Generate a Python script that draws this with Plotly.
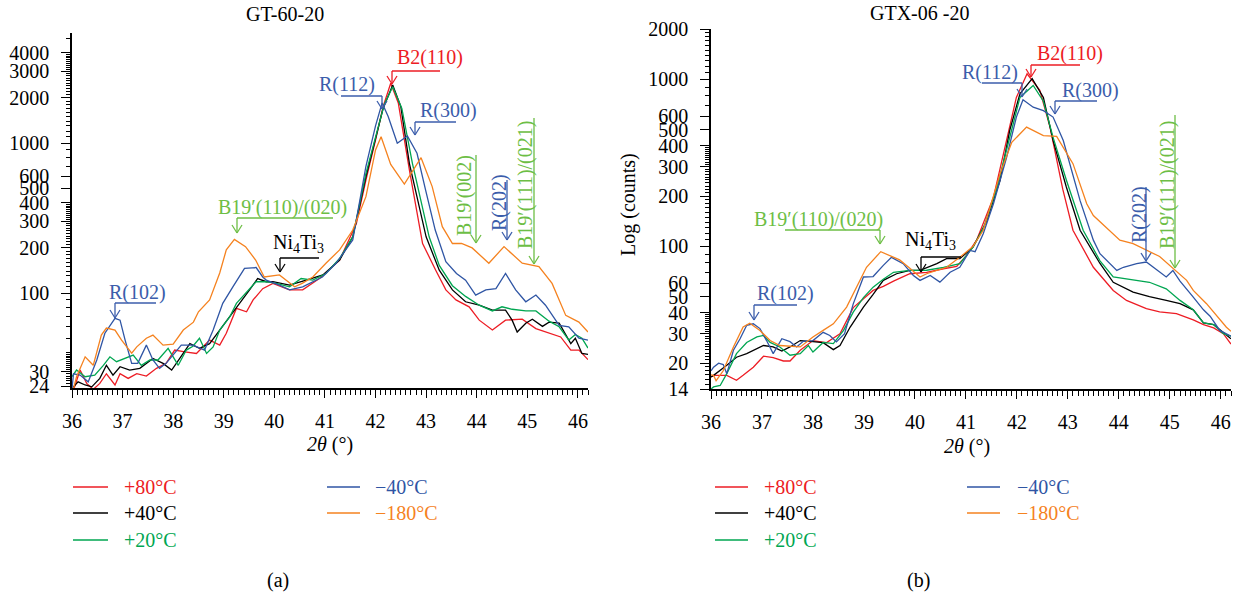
import math
import plotly.graph_objects as go

W, H = 1238, 595
FONT = "Liberation Serif, DejaVu Serif, serif"

# ---------------- data ----------------
labels = ["+80°C", "+40°C", "+20°C", "−40°C", "−180°C"]
colors = ["#ed1c24", "#000000", "#00a651", "#2f55a4", "#f5821f"]

# Panel (a) GT-60-20
a_x_p80 = [36.0, 36.09, 36.16, 36.29, 36.42, 36.55, 36.68, 36.85, 36.95, 37.11, 37.28, 37.47, 37.67, 37.86, 38.03, 38.23, 38.46, 38.72, 38.92, 39.05, 39.25, 39.45, 39.58, 39.77, 39.97, 40.3, 40.56, 40.89, 41.29, 41.62, 41.81, 42.0, 42.15, 42.3, 42.45, 42.67, 42.93, 43.19, 43.39, 43.59, 43.85, 44.05, 44.31, 44.57, 44.9, 45.17, 45.43, 45.66, 45.86, 46.02, 46.2]
a_y_p80 = [21, 26.3, 30.7, 25, 22.8, 25, 29, 24.4, 29, 27, 29, 28, 31.5, 34, 41.7, 40.6, 39.6, 48.6, 45, 54, 79, 75, 90, 107, 116, 105, 105, 125, 166, 290, 566, 1047, 1750, 2500, 1850, 660, 214, 142, 105, 90, 81, 66, 56.7, 66, 67, 58, 54, 51, 41.7, 41.7, 36]

a_x_p40 = [36.0, 36.03, 36.12, 36.26, 36.39, 36.55, 36.68, 36.81, 36.95, 37.14, 37.34, 37.6, 37.8, 37.97, 38.13, 38.33, 38.52, 38.72, 38.92, 39.12, 39.31, 39.51, 39.67, 39.84, 39.97, 40.3, 40.63, 40.96, 41.29, 41.55, 41.81, 42.0, 42.15, 42.34, 42.5, 42.67, 43.0, 43.26, 43.52, 43.78, 44.05, 44.31, 44.57, 44.7, 44.8, 44.97, 45.1, 45.3, 45.43, 45.63, 45.86, 45.95, 46.08, 46.2]
a_y_p40 = [22, 23.7, 25.6, 24.4, 23.7, 27, 33, 28.4, 32.3, 30.7, 31.5, 36.7, 34, 30.7, 36.7, 46, 42.8, 46, 56.7, 69.6, 85.4, 105, 125, 119, 119, 113, 122, 132, 166, 237, 596, 1047, 1700, 2440, 1750, 730, 237, 142, 105, 87.5, 83, 77, 77, 66, 55, 63, 67, 60, 64, 63, 46, 50, 39.6, 39]

a_x_p20 = [36.0, 36.09, 36.26, 36.45, 36.62, 36.75, 36.88, 37.05, 37.21, 37.37, 37.54, 37.7, 37.9, 38.1, 38.26, 38.39, 38.52, 38.66, 38.79, 38.92, 39.12, 39.25, 39.45, 39.64, 39.84, 40.04, 40.3, 40.53, 40.76, 41.02, 41.29, 41.55, 41.81, 42.0, 42.17, 42.34, 42.52, 42.73, 43.06, 43.26, 43.52, 43.78, 44.05, 44.31, 44.5, 44.7, 44.97, 45.17, 45.43, 45.63, 45.82, 45.95, 46.08, 46.2]
a_y_p20 = [27.7, 30.7, 27.7, 28.4, 33, 37.6, 34.9, 36.7, 38.6, 33, 35.8, 35.8, 42.8, 33, 41.7, 44.2, 50, 39.6, 43.8, 56.7, 69.6, 85.4, 102, 119, 119, 116, 110, 125, 122, 135, 170, 237, 626, 1100, 1800, 2370, 1700, 730, 237, 153, 112, 95, 83, 76, 81, 78, 76, 76, 65, 59.6, 48.6, 53, 50, 43]

a_x_m40 = [36.0, 36.03, 36.16, 36.32, 36.49, 36.65, 36.85, 36.95, 37.05, 37.18, 37.3, 37.47, 37.6, 37.73, 37.86, 38.03, 38.16, 38.39, 38.62, 38.79, 38.98, 39.18, 39.41, 39.64, 39.77, 39.84, 40.1, 40.3, 40.56, 40.95, 41.22, 41.55, 41.81, 42.0, 42.13, 42.25, 42.43, 42.63, 42.82, 42.99, 43.18, 43.39, 43.6, 43.78, 43.98, 44.18, 44.38, 44.57, 44.77, 44.97, 45.17, 45.36, 45.63, 45.82, 46.02, 46.2]
a_y_m40 = [23, 29, 28.4, 25.6, 35.8, 54, 67.8, 66, 48.6, 34, 34, 45, 35.8, 31.5, 34, 39.6, 45, 45, 41.7, 56.7, 85.4, 110, 146, 148, 128, 122, 113, 105, 110, 128, 158, 226, 700, 1300, 1850, 1500, 996, 1114, 855, 486, 263, 162, 135, 122, 97, 105, 107, 135, 105, 87.5, 97, 83, 61, 59.6, 50, 48.6]

a_x_m180 = [36.0, 36.09, 36.26, 36.42, 36.58, 36.68, 36.85, 36.98, 37.18, 37.28, 37.47, 37.6, 37.8, 38.0, 38.2, 38.4, 38.5, 38.72, 38.92, 39.05, 39.21, 39.43, 39.63, 39.8, 40.1, 40.4, 40.55, 40.76, 41.02, 41.29, 41.55, 41.81, 42.0, 42.11, 42.3, 42.57, 42.9, 43.12, 43.32, 43.52, 43.7, 43.91, 44.24, 44.54, 44.9, 45.23, 45.49, 45.76, 46.02, 46.2]
a_y_m180 = [21, 27.7, 37.6, 33, 52.5, 58.5, 56.7, 48.6, 39.8, 43.8, 50, 52.5, 45, 45.7, 56.7, 64, 75, 90, 136, 194, 228, 204, 166, 128, 132, 110, 116, 128, 158, 194, 263, 439, 900, 1100, 720, 533, 798, 512, 277, 214, 214, 200, 158, 204, 158, 150, 116, 71, 64, 55]

# Panel (b) GTX-06-20
b_x_p80 = [36.0, 36.05, 36.31, 36.5, 36.63, 36.83, 37.03, 37.22, 37.42, 37.55, 37.75, 38.0, 38.26, 38.53, 38.79, 38.99, 39.18, 39.38, 39.58, 39.9, 40.23, 40.56, 40.82, 41.01, 41.21, 41.54, 41.8, 41.99, 42.2, 42.45, 42.65, 42.9, 43.1, 43.5, 43.89, 44.15, 44.54, 44.8, 45.13, 45.46, 45.66, 45.86, 46.05, 46.2]
b_y_p80 = [16.5, 16.9, 16.9, 15.8, 16.9, 18.9, 22, 21.6, 20.6, 20.6, 23.9, 27.3, 26.5, 30, 43, 48.6, 54.5, 57.6, 62, 68.6, 70, 73.5, 76, 88, 109, 196, 431, 780, 1080, 860, 518, 220, 125, 75, 54.5, 47.5, 42.4, 40.6, 39.6, 36.3, 34, 32.5, 30, 26]

b_x_p40 = [36.0, 36.05, 36.31, 36.5, 36.7, 36.9, 37.03, 37.22, 37.39, 37.55, 37.75, 38.0, 38.2, 38.4, 38.53, 38.73, 38.99, 39.18, 39.38, 39.64, 39.9, 40.1, 40.43, 40.62, 40.88, 41.14, 41.4, 41.67, 41.86, 42.06, 42.3, 42.52, 42.71, 42.97, 43.24, 43.63, 43.89, 44.28, 44.6, 44.93, 45.2, 45.46, 45.66, 45.86, 46.05, 46.2]
b_y_p40 = [16.5, 16.9, 19.4, 21.7, 22.8, 24.5, 25.5, 25, 23.6, 25, 27.3, 26.9, 26.5, 24.1, 25.5, 32.9, 43.3, 51.6, 62.6, 68.6, 71.8, 71.8, 78.8, 84.4, 84.4, 99, 140, 249, 495, 820, 1010, 780, 431, 227, 125, 79, 61, 53.3, 50, 47.5, 45.4, 41.7, 34.8, 34, 30.6, 28]

b_x_p20 = [36.0, 36.05, 36.18, 36.31, 36.5, 36.7, 36.9, 37.03, 37.16, 37.35, 37.55, 37.75, 37.91, 38.0, 38.2, 38.4, 38.6, 38.79, 38.99, 39.18, 39.38, 39.58, 39.9, 40.23, 40.56, 40.88, 41.14, 41.35, 41.6, 41.86, 42.06, 42.32, 42.52, 42.71, 42.97, 43.3, 43.63, 43.89, 44.28, 44.6, 44.93, 45.2, 45.46, 45.66, 45.86, 46.05, 46.2]
b_y_p20 = [14, 14.4, 14.7, 17.3, 22.8, 26.6, 28.7, 29.3, 26.6, 25, 22.3, 22.8, 25.5, 23.3, 26.6, 26.2, 31.4, 40.4, 49.4, 57, 63.5, 70, 71.8, 72, 75, 78.8, 99, 130, 220, 460, 780, 920, 740, 450, 250, 125, 82, 65.6, 63, 61, 55.7, 47.5, 41.7, 34.8, 34, 30, 29]

b_x_m40 = [36.0, 36.05, 36.15, 36.24, 36.31, 36.44, 36.57, 36.7, 36.83, 36.96, 37.09, 37.22, 37.39, 37.55, 37.68, 37.81, 38.0, 38.2, 38.33, 38.46, 38.62, 38.79, 38.99, 39.18, 39.38, 39.54, 39.77, 39.97, 40.1, 40.3, 40.49, 40.69, 40.88, 41.08, 41.18, 41.34, 41.54, 41.8, 41.99, 42.12, 42.32, 42.52, 42.71, 42.91, 43.24, 43.5, 43.63, 43.96, 44.09, 44.35, 44.54, 44.8, 44.93, 45.06, 45.2, 45.46, 45.66, 45.79, 45.98, 46.2]
b_y_m40 = [18, 18.9, 20, 19.6, 17.3, 23.9, 28, 33.7, 34.4, 32.2, 27.3, 22.8, 28, 26.9, 25, 27, 27.3, 30.6, 29.3, 26.8, 30, 45.3, 65.6, 66, 77, 86, 78.8, 67, 62.6, 67, 61.1, 70, 75, 94.6, 93, 119, 180, 343, 595, 755, 682, 650, 595, 431, 188, 109, 90.4, 71.8, 75, 78.8, 80.6, 70, 65.6, 71.8, 62, 49.7, 41.7, 38.2, 31.4, 29]

b_x_m180 = [36.0, 36.05, 36.1, 36.24, 36.44, 36.63, 36.76, 36.96, 37.16, 37.35, 37.75, 38.0, 38.2, 38.4, 38.66, 38.86, 39.05, 39.33, 39.7, 39.9, 40.1, 40.23, 40.62, 40.88, 41.14, 41.34, 41.67, 41.9, 42.19, 42.52, 42.78, 43.1, 43.37, 43.5, 43.76, 44.02, 44.28, 44.8, 45.33, 45.46, 45.72, 46.11, 46.2]
b_y_m180 = [17, 16.9, 15.7, 18, 25, 32.9, 34.7, 31.4, 27.3, 25.5, 25, 28.7, 31.4, 34.4, 43.3, 57.1, 75, 93, 83, 74, 65.6, 68.6, 75, 86, 100, 125, 272, 420, 518, 461, 456, 313, 180, 153, 130, 109, 104, 87, 62.6, 54.5, 45.4, 32.8, 31]

x_ticks = [36, 37, 38, 39, 40, 41, 42, 43, 44, 45, 46]
a_y_ticks = [24, 30, 100, 200, 300, 400, 500, 600, 1000, 2000, 3000, 4000]
b_y_ticks = [14, 20, 30, 40, 50, 60, 100, 200, 300, 400, 500, 600, 1000, 2000]

panel_a = [(a_x_p80, a_y_p80), (a_x_p40, a_y_p40), (a_x_p20, a_y_p20), (a_x_m40, a_y_m40), (a_x_m180, a_y_m180)]
panel_b = [(b_x_p80, b_y_p80), (b_x_p40, b_y_p40), (b_x_p20, b_y_p20), (b_x_m40, b_y_m40), (b_x_m180, b_y_m180)]

# ---------------- figure ----------------
fig = go.Figure()
for (xs, ys), lab, col in zip(panel_a, labels, colors):
    fig.add_trace(go.Scatter(x=xs, y=ys, mode="lines", name=lab, line=dict(color=col, width=1.3),
                             xaxis="x", yaxis="y", showlegend=False))
for (xs, ys), lab, col in zip(panel_b, labels, colors):
    fig.add_trace(go.Scatter(x=xs, y=ys, mode="lines", name=lab, line=dict(color=col, width=1.3),
                             xaxis="x2", yaxis="y2", showlegend=False))


def P(x, y):
    return x / W, 1 - y / H


def xaxis_cfg(x0, x1, anchor):
    return dict(domain=[x0 / W, x1 / W], anchor=anchor, range=[36, 46.2], automargin=False,
                showline=True, linecolor="black", linewidth=1.5, mirror=False,
                ticks="outside", ticklen=8, tickwidth=1.3, tickcolor="black",
                tickmode="array", tickvals=x_ticks, ticktext=[str(v) for v in x_ticks],
                minor=dict(ticks="outside", ticklen=5, tickwidth=1, tickcolor="black",
                           tickmode="linear", tick0=36, dtick=0.1, showgrid=False),
                showgrid=False, zeroline=False, ticklabelstandoff=6,
                tickfont=dict(family=FONT, size=20, color="black"))


def minor_vals(lo, hi, ticks):
    vals = []
    for d in (10, 100, 1000):
        for k in range(10, 40):
            vals.append(d * k / 10)
        for k in (4, 5, 6, 7, 8, 9):
            vals.append(d * k)
    return [v for v in sorted(set(vals)) if lo <= v <= hi and v not in ticks]


def yaxis_cfg(y0, y1, lo, hi, ticks, anchor):
    return dict(type="log", domain=[1 - y1 / H, 1 - y0 / H], anchor=anchor, automargin=False,
                range=[math.log10(lo), math.log10(hi)],
                showline=True, linecolor="black", linewidth=1.5, mirror=False,
                ticks="outside", ticklen=9, tickwidth=1.3, tickcolor="black",
                tickmode="array", tickvals=ticks, ticktext=[str(v) for v in ticks],
                minor=dict(ticks="outside", ticklen=4, tickwidth=1, tickcolor="black",
                           tickmode="array", tickvals=minor_vals(lo, hi, ticks), showgrid=False),
                showgrid=False, zeroline=False, ticklabelstandoff=8,
                tickfont=dict(family=FONT, size=20, color="black"))


layout = dict(template="none", width=W, height=H, margin=dict(l=0, r=0, t=0, b=0, pad=0, autoexpand=False),
              paper_bgcolor="white", plot_bgcolor="white", showlegend=False,
              font=dict(family=FONT, size=20, color="black"))
layout["xaxis"] = xaxis_cfg(72, 588, "y")
layout["yaxis"] = yaxis_cfg(33, 388, 23.3, 5410, a_y_ticks, "x")
layout["xaxis2"] = xaxis_cfg(711, 1231, "y2")
layout["yaxis2"] = yaxis_cfg(29, 389, 14, 2004, b_y_ticks, "x2")
fig.update_layout(**layout)

shapes = []
annotations = []


def seg(x0, y0, x1, y1, color, width=1.3):
    a0, b0 = P(x0, y0)
    a1, b1 = P(x1, y1)
    shapes.append(dict(type="line", xref="paper", yref="paper", x0=a0, y0=b0, x1=a1, y1=b1,
                       line=dict(color=color, width=width)))


def bracket(path, color):
    for (xa, ya), (xb, yb) in zip(path[:-1], path[1:]):
        seg(xa, ya, xb, yb, color)
    xt, yt = path[-1]
    seg(xt - 5, yt - 8, xt, yt, color)
    seg(xt + 5, yt - 8, xt, yt, color)


def label(x, y, text, color, angle=0, size=20, xanchor="center"):
    a, b = P(x, y)
    annotations.append(dict(x=a, y=b, xref="paper", yref="paper", text=text, showarrow=False,
                            font=dict(family=FONT, size=size, color=color), textangle=angle,
                            xanchor=xanchor, yanchor="middle"))


BLUE_T = "#3b5dab"
GREEN_T = "#6dbe45"
RED_T = "#ed1c24"

# panel (a) peak labels
label(137, 292, "R(102)", BLUE_T)
bracket([(156, 303), (115, 303), (115, 318)], BLUE_T)
label(282, 207, "B19′(110)/(020)", GREEN_T)
bracket([(333, 218), (237, 218), (237, 233)], GREEN_T)
label(298, 243, "Ni<sub>4</sub>Ti<sub>3</sub>", "black")
bracket([(319, 258), (280, 258), (280, 272)], "black")
label(347, 85, "R(112)", BLUE_T)
bracket([(341, 96), (382, 96), (382, 109)], BLUE_T)
label(430, 58, "B2(110)", RED_T)
bracket([(440, 71), (392, 71), (392, 84)], RED_T)
label(448, 110, "R(300)", BLUE_T)
bracket([(456, 122), (415, 122), (415, 135)], BLUE_T)
label(465, 196, "B19′(002)", GREEN_T, angle=-90)
bracket([(476, 155), (476, 243)], GREEN_T)
label(499, 203, "R(202)", BLUE_T, angle=-90)
bracket([(507, 180), (507, 240)], BLUE_T)
label(525, 185, "B19′(111)/(021)", GREEN_T, angle=-90)
bracket([(534, 118), (534, 264)], GREEN_T)

# panel (b) peak labels
label(785, 293, "R(102)", BLUE_T)
bracket([(797, 305), (754, 305), (754, 320)], BLUE_T)
label(818, 219, "B19′(110)/(020)", GREEN_T)
bracket([(785, 230), (880, 230), (880, 244)], GREEN_T)
label(930, 240, "Ni<sub>4</sub>Ti<sub>3</sub>", "black")
bracket([(961, 257), (921, 257), (921, 272)], "black")
label(990, 72, "R(112)", BLUE_T)
bracket([(982, 83), (1022, 83), (1022, 97)], BLUE_T)
label(1070, 53, "B2(110)", RED_T)
bracket([(1080, 65), (1031, 65), (1031, 77)], RED_T)
label(1090, 90, "R(300)", BLUE_T)
bracket([(1097, 101), (1055, 101), (1055, 114)], BLUE_T)
label(1139, 215, "R(202)", BLUE_T, angle=-90)
bracket([(1146, 187), (1146, 261)], BLUE_T)
label(1167, 185, "B19′(111)/(021)", GREEN_T, angle=-90)
bracket([(1175, 115), (1175, 268)], GREEN_T)

# titles
label(285, 14, "GT-60-20", "black")
label(920, 13, "GTX-06 -20", "black")
label(330, 444, "<i>2θ</i> (°)", "black")
label(967, 446, "<i>2θ</i> (°)", "black")
label(628, 205, "Log (counts)", "black", angle=-90)
label(278, 580, "(a)", "black")
label(918, 580, "(b)", "black")

# legends
rows = [487, 513, 540]
for (lx0, lx1, tx, cx0, cx1, ctx) in [(73, 108, 122, 327, 360, 373), (715, 748, 762, 967, 1000, 1015)]:
    for i in range(3):
        seg(lx0, rows[i], lx1, rows[i], colors[i], 1.5)
        label(tx, rows[i], labels[i], colors[i], xanchor="left")
    for j in range(2):
        seg(cx0, rows[j], cx1, rows[j], colors[3 + j], 1.5)
        label(ctx, rows[j], labels[3 + j], colors[3 + j], xanchor="left")

fig.update_layout(shapes=shapes, annotations=annotations)
fig.write_html("out.html", config={"displayModeBar": False},
               post_script="document.body.style.margin='0';document.body.style.padding='0';"
                           "document.documentElement.style.overflow='hidden';")
